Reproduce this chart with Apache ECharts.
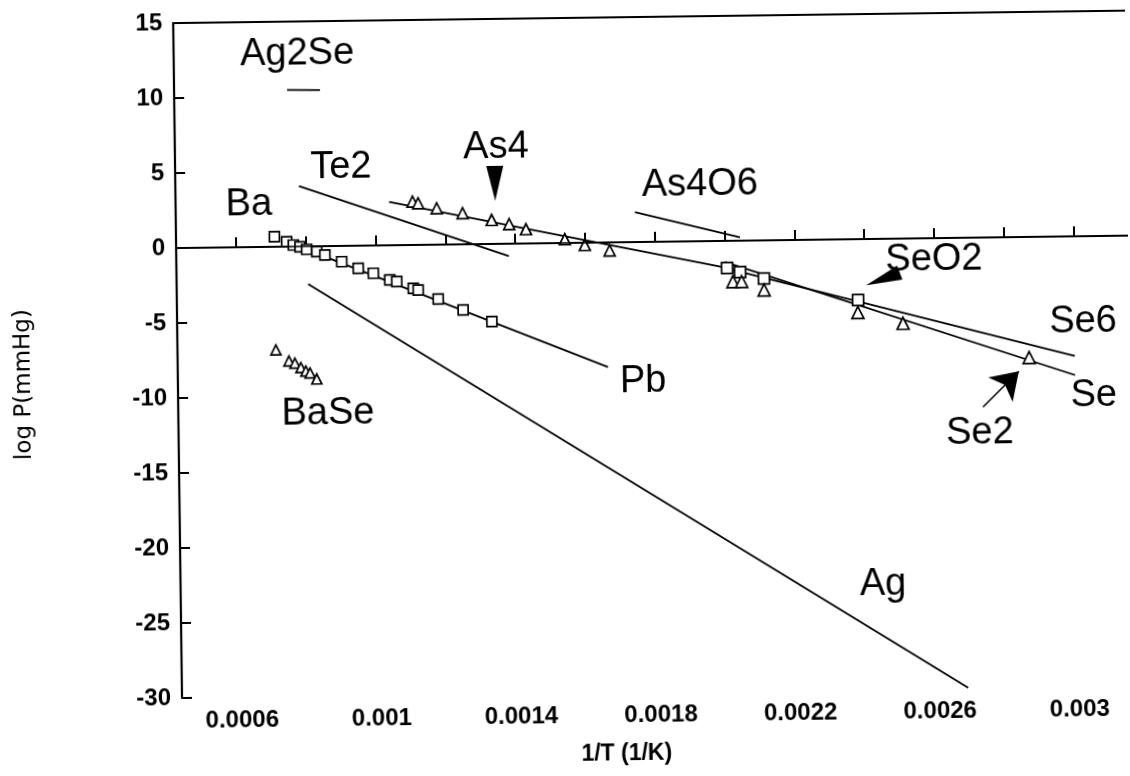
<!DOCTYPE html>
<html>
<head>
<meta charset="utf-8">
<script src="https://cdn.jsdelivr.net/npm/echarts@6/dist/echarts.min.js"></script>
<style>
  html, body { margin: 0; background: #fff; overflow: hidden; }
  /* the scanned figure is tilted a little, so is this one */
  #chart { width: 1130px; height: 776px; transform: rotate(-0.75deg); }
</style>
</head>
<body>
<div id="chart"></div>
<script>
// tick values
const xTickValues = [0.0006, 0.0008, 0.001, 0.0012, 0.0014, 0.0016, 0.0018, 0.002, 0.0022, 0.0024, 0.0026, 0.0028, 0.003];
const xLabelValues = [0.0006, 0.001, 0.0014, 0.0018, 0.0022, 0.0026, 0.003];

// fitted lines, [1/T, log P]
const ag2seLine = [[0.000752, 10.44], [0.000846, 10.41]];
const te2Line = [[0.000782, 4.03], [0.001381, -0.82]];
const as4Line = [[0.00104, 2.89], [0.002, -1.78]];
const se6Line = [[0.002, -1.81], [0.002999, -7.98]];
const seLine = [[0.002, -1.41], [0.002999, -9.25]];
const as4o6Line = [[0.001744, 1.99], [0.002044, 0.23]];
const pbLine = [[0.000745, 0.33], [0.001661, -8.31]];
const agLine = [[0.000805, -2.51], [0.002681, -30.0]];

// measured points
const baSquares = [
  [0.00071, 0.67], [0.000745, 0.33], [0.000764, 0.10], [0.000783, -0.02], [0.000802, -0.20],
  [0.000831, -0.36], [0.000854, -0.59], [0.000902, -1.05], [0.000949, -1.51], [0.000992, -1.85],
  [0.001039, -2.31], [0.001059, -2.43], [0.001106, -2.89], [0.00112, -3.01], [0.001177, -3.62],
  [0.001248, -4.38], [0.00133, -5.18]
];
const baseTriangles = [
  [0.00071, -6.88], [0.000747, -7.63], [0.000764, -7.78], [0.000781, -8.07],
  [0.000795, -8.31], [0.000807, -8.44], [0.000826, -8.85]
];
const as4Triangles = [
  [0.001107, 2.89], [0.001123, 2.77], [0.001176, 2.43], [0.00125, 2.07], [0.001333, 1.6],
  [0.001383, 1.31], [0.001431, 0.95], [0.001542, 0.25], [0.001599, -0.15], [0.00167, -0.54]
];
const seSquares = [[0.002006, -1.81], [0.002043, -2.09], [0.002111, -2.54], [0.00238, -4.06]];
const seTriangles = [
  [0.002022, -2.73], [0.002047, -2.73], [0.002111, -3.31], [0.002379, -4.89],
  [0.002508, -5.65], [0.002868, -8.04]
];

// text annotations [1/T, log P, text]
const labels = [
  [0.000782, 12.83, 'Ag2Se'], [0.000903, 5.26, 'Te2'], [0.000638, 2.81, 'Ba'],
  [0.001348, 6.46, 'As4'], [0.001931, 3.75, 'As4O6'], [0.002599, -1.45, 'SeO2'],
  [0.003024, -5.72, 'Se6'], [0.003052, -10.66, 'Se'], [0.002724, -13.03, 'Se2'],
  [0.001761, -9.27, 'Pb'], [0.000857, -11.19, 'BaSe'], [0.002441, -23.01, 'Ag']
];
const as4Pointer = [[0.001344, 4.03]];
const seo2Pointer = [[0.002452, -2.68]];
const se2Arrow = [[0.002734, -11.3], [0.002838, -8.95]];

const chart = echarts.init(document.getElementById('chart'));

function seg(name, data) {
  return { name, type: 'line', data, symbol: 'none', lineStyle: { color: '#000', width: 1.8 }, z: 2 };
}
function pts(name, data, symbol, size) {
  return {
    name, type: 'scatter', data, symbol, symbolSize: size, z: 3,
    itemStyle: { color: '#fff', borderColor: '#000', borderWidth: 1.7, opacity: 1 }
  };
}

const tickFont = { color: '#000', fontSize: 24, fontWeight: 'bold', fontFamily: 'Liberation Sans' };

chart.setOption({
  animation: false,
  backgroundColor: '#fff',
  grid: { left: 178, right: 0, top: 18, bottom: 83 },
  xAxis: [{
    type: 'value',
    min: 0.000428,
    max: 0.003156,
    name: '1/T (1/K)',
    nameLocation: 'middle',
    nameGap: 50,
    nameTextStyle: { color: '#000', fontSize: 23, fontWeight: 'bold', fontFamily: 'Liberation Sans', padding: [0, 64, 0, 0] },
    axisLine: { lineStyle: { color: '#000', width: 2.2 } },
    axisTick: { inside: true, length: 10, customValues: xTickValues, lineStyle: { color: '#000', width: 2 } },
    axisLabel: Object.assign({ customValues: xLabelValues, margin: 11, formatter: v => String(+v.toPrecision(6)) }, tickFont),
    splitLine: { show: false }
  }, {
    type: 'value',
    position: 'top',
    min: 0.000428,
    max: 0.003156,
    axisLine: { lineStyle: { color: '#000', width: 2 } },
    axisTick: { show: false },
    axisLabel: { show: false },
    splitLine: { show: false }
  }],
  yAxis: {
    type: 'value',
    min: -30,
    max: 15,
    interval: 5,
    name: 'log P(mmHg)',
    nameLocation: 'middle',
    nameGap: 142,
    nameTextStyle: { color: '#000', fontSize: 23, fontFamily: 'DejaVu Sans', padding: [0, 44, 0, 0] },
    axisLine: { lineStyle: { color: '#000', width: 2.2 } },
    axisTick: { inside: true, length: 10, lineStyle: { color: '#000', width: 2 } },
    axisLabel: Object.assign({ margin: 11 }, tickFont),
    splitLine: { show: false }
  },
  series: [
    Object.assign(seg('Ag2Se', ag2seLine), {
      markLine: {
        silent: true, symbol: 'none', label: { show: false },
        lineStyle: { color: '#000', width: 1.6, type: 'solid' },
        data: [{ yAxis: 0 }]
      }
    }),
    seg('Te2', te2Line),
    seg('As4', as4Line),
    seg('Se6', se6Line),
    seg('Se', seLine),
    seg('As4O6', as4o6Line),
    seg('Pb', pbLine),
    seg('Ag', agLine),
    pts('Ba', baSquares, 'rect', 10),
    pts('BaSe', baseTriangles, 'triangle', 10),
    pts('As4 data', as4Triangles, 'triangle', 11),
    pts('Se squares', seSquares, 'rect', 11),
    pts('Se triangles', seTriangles, 'triangle', 12),
    {
      type: 'scatter', data: as4Pointer, symbol: 'triangle', symbolSize: [17, 35], symbolRotate: 180,
      itemStyle: { color: '#000', opacity: 1 }, z: 4
    },
    {
      type: 'scatter', data: seo2Pointer, symbol: 'triangle', symbolSize: [15, 36], symbolRotate: 110,
      itemStyle: { color: '#000', opacity: 1 }, z: 4
    },
    {
      type: 'lines', coordinateSystem: 'cartesian2d', z: 4,
      symbol: ['none', 'arrow'], symbolSize: [13, 26],
      lineStyle: { color: '#000', width: 1.6, opacity: 1 },
      data: [{ coords: se2Arrow }]
    },
    {
      type: 'scatter', data: labels, symbolSize: 1, z: 5,
      itemStyle: { color: 'transparent', opacity: 1 },
      label: {
        show: true, position: 'inside', formatter: p => p.data[2],
        color: '#000', fontSize: 38, fontFamily: 'Liberation Sans'
      }
    }
  ]
});
</script>
</body>
</html>
